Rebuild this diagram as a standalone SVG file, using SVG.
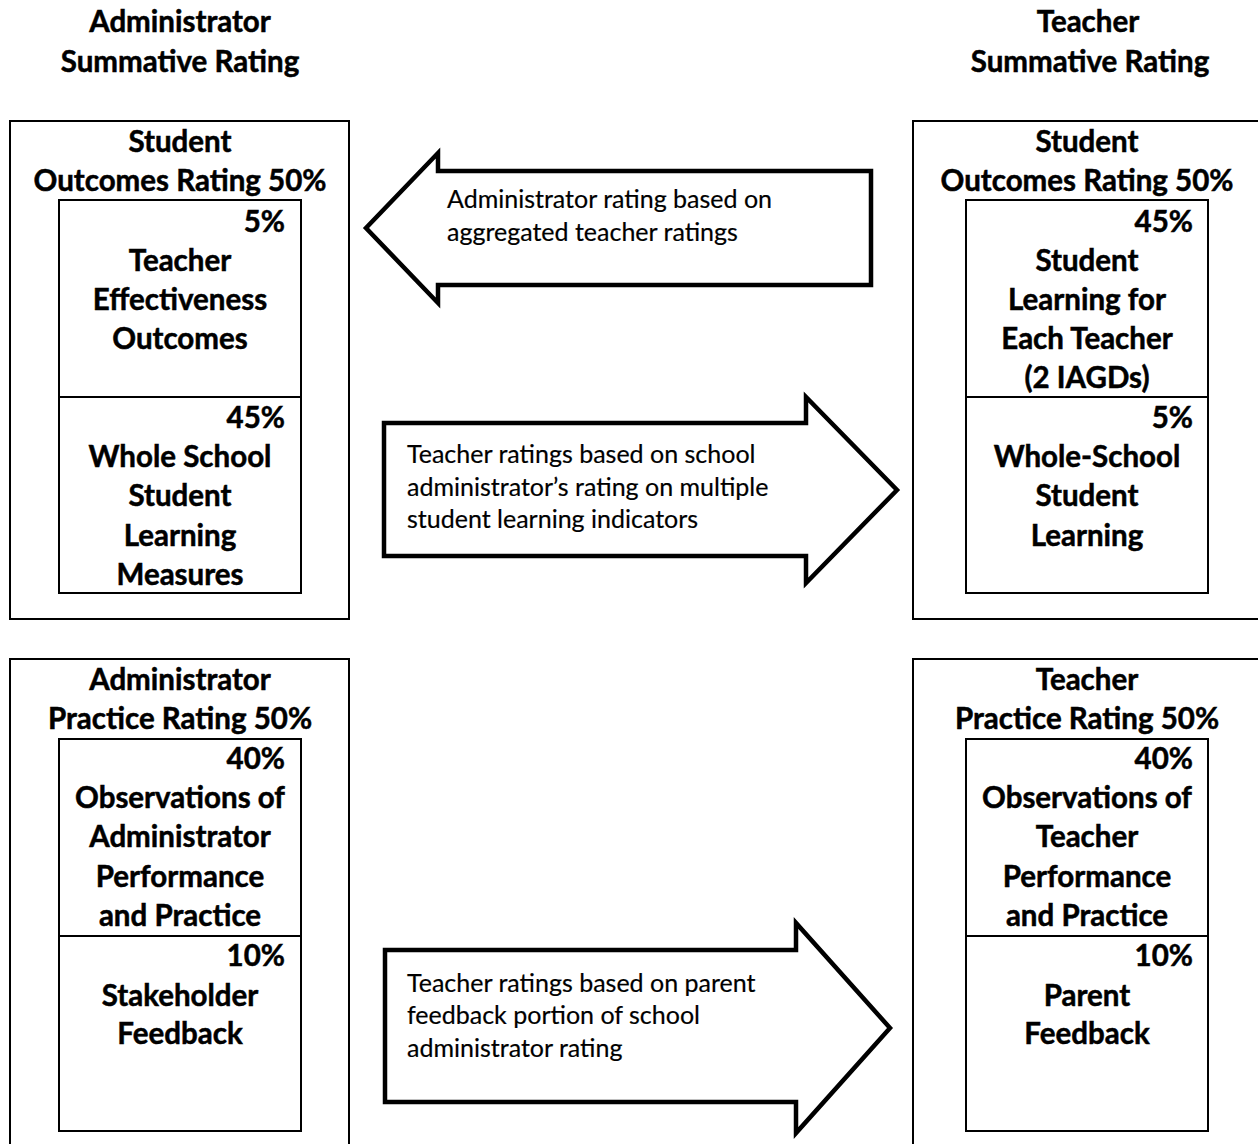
<svg xmlns="http://www.w3.org/2000/svg" width="1258" height="1144" viewBox="0 0 1258 1144">
<style>
.bg{fill:#ffffff}
.box{fill:none;stroke:#000;stroke-width:2}
.arrow{fill:#ffffff;stroke:#000;stroke-width:4.5;stroke-linejoin:miter}
.b{font-family:Lato,"Liberation Sans",sans-serif;font-weight:bold;font-size:29.5px;fill:#000;stroke:#000;stroke-width:0.5;text-anchor:middle}
.p{font-family:Lato,"Liberation Sans",sans-serif;font-weight:bold;font-size:29.5px;fill:#000;stroke:#000;stroke-width:0.5;text-anchor:end}
.n{font-family:Lato,"Liberation Sans",sans-serif;font-size:25px;fill:#000;stroke:#000;stroke-width:0.2}
</style>
<rect class="bg" x="0" y="0" width="1258" height="1144"/>

<g id="header-admin">
<text class="b" x="180" y="32">Administrator</text>
<text class="b" x="180" y="72">Summative Rating</text>
</g>
<g id="header-teacher">
<text class="b" x="1088" y="32">Teacher</text>
<text class="b" x="1090" y="72">Summative Rating</text>
</g>

<g id="admin-outcomes">
<rect class="box" x="10" y="121" width="339" height="498"/>
<text class="b" x="180" y="152">Student</text>
<text class="b" x="180" y="191">Outcomes Rating 50%</text>
<rect class="box" x="59" y="200" width="242" height="393"/>
<line class="box" x1="59" y1="397" x2="301" y2="397"/>
<text class="p" x="285" y="232">5%</text>
<text class="b" x="180" y="271">Teacher</text>
<text class="b" x="180" y="310">Effectiveness</text>
<text class="b" x="180" y="349">Outcomes</text>
<text class="p" x="285" y="428">45%</text>
<text class="b" x="180" y="467">Whole School</text>
<text class="b" x="180" y="506">Student</text>
<text class="b" x="180" y="546">Learning</text>
<text class="b" x="180" y="585">Measures</text>
</g>

<g id="teacher-outcomes">
<rect class="box" x="913" y="121" width="360" height="498"/>
<text class="b" x="1087" y="152">Student</text>
<text class="b" x="1087" y="191">Outcomes Rating 50%</text>
<rect class="box" x="966" y="200" width="242" height="393"/>
<line class="box" x1="966" y1="397" x2="1208" y2="397"/>
<text class="p" x="1193" y="232">45%</text>
<text class="b" x="1087" y="271">Student</text>
<text class="b" x="1087" y="310">Learning for</text>
<text class="b" x="1087" y="349">Each Teacher</text>
<text class="b" x="1087" y="388">(2 IAGDs)</text>
<text class="p" x="1193" y="428">5%</text>
<text class="b" x="1087" y="467">Whole-School</text>
<text class="b" x="1087" y="506">Student</text>
<text class="b" x="1087" y="546">Learning</text>
</g>

<g id="admin-practice">
<rect class="box" x="10" y="659" width="339" height="500"/>
<text class="b" x="180" y="690">Administrator</text>
<text class="b" x="180" y="729">Practice Rating 50%</text>
<rect class="box" x="59" y="739" width="242" height="392"/>
<line class="box" x1="59" y1="936" x2="301" y2="936"/>
<text class="p" x="285" y="769">40%</text>
<text class="b" x="180" y="808">Observations of</text>
<text class="b" x="180" y="847">Administrator</text>
<text class="b" x="180" y="887">Performance</text>
<text class="b" x="180" y="926">and Practice</text>
<text class="p" x="285" y="966">10%</text>
<text class="b" x="180" y="1006">Stakeholder</text>
<text class="b" x="180" y="1044">Feedback</text>
</g>

<g id="teacher-practice">
<rect class="box" x="913" y="659" width="360" height="500"/>
<text class="b" x="1087" y="690">Teacher</text>
<text class="b" x="1087" y="729">Practice Rating 50%</text>
<rect class="box" x="966" y="739" width="242" height="392"/>
<line class="box" x1="966" y1="936" x2="1208" y2="936"/>
<text class="p" x="1193" y="769">40%</text>
<text class="b" x="1087" y="808">Observations of</text>
<text class="b" x="1087" y="847">Teacher</text>
<text class="b" x="1087" y="887">Performance</text>
<text class="b" x="1087" y="926">and Practice</text>
<text class="p" x="1193" y="966">10%</text>
<text class="b" x="1087" y="1006">Parent</text>
<text class="b" x="1087" y="1044">Feedback</text>
</g>

<g id="connectors">
<g id="arrow-aggregated">
<polygon class="arrow" points="871,171 438,171 438,153 366,228 438,303 438,285 871,285"/>
<text class="n" x="447" y="208">Administrator rating based on</text>
<text class="n" x="447" y="241">aggregated teacher ratings</text>
</g>
<g id="arrow-student-learning">
<polygon class="arrow" points="384,423 806,423 806,397 897,490 806,583 806,556 384,556"/>
<text class="n" x="407" y="463">Teacher ratings based on school</text>
<text class="n" x="407" y="496">administrator’s rating on multiple</text>
<text class="n" x="407" y="528">student learning indicators</text>
</g>
<g id="arrow-parent-feedback">
<polygon class="arrow" points="385,950 796,950 796,923 890,1028 796,1133 796,1102 385,1102"/>
<text class="n" x="407" y="992">Teacher ratings based on parent</text>
<text class="n" x="407" y="1024">feedback portion of school</text>
<text class="n" x="407" y="1057">administrator rating</text>
</g>
</g>
</svg>
